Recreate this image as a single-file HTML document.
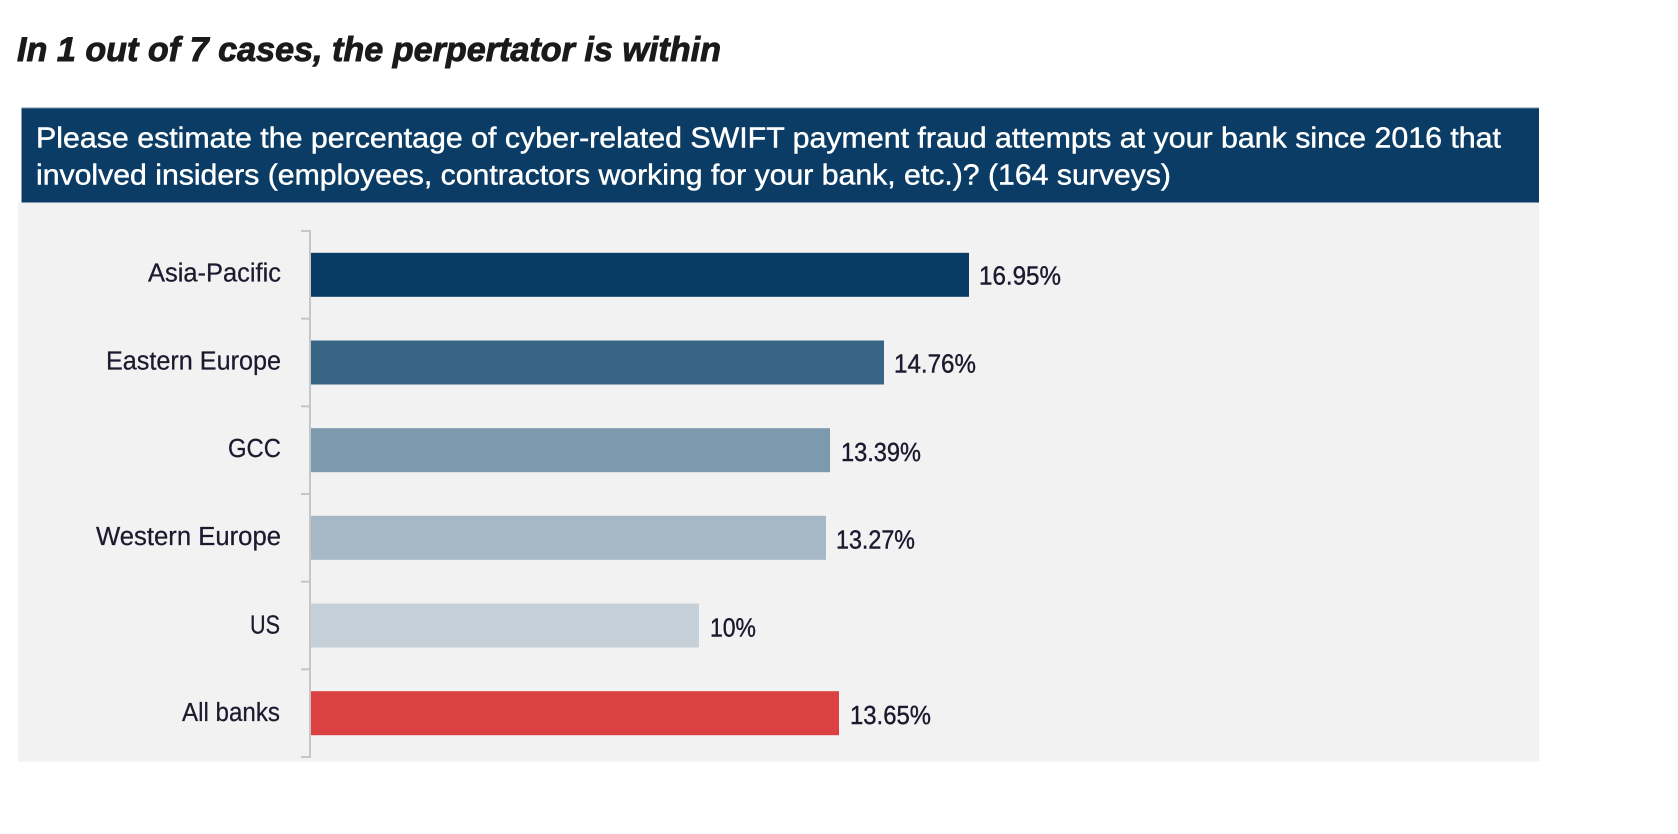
<!DOCTYPE html>
<html>
<head>
<meta charset="utf-8">
<style>
  html, body { margin: 0; padding: 0; background: #ffffff; }
  body { width: 1678px; height: 834px; overflow: hidden; }
  svg { display: block; }
  text { font-family: "Liberation Sans", Arial, sans-serif; }
</style>
</head>
<body>
<svg width="1678" height="834" viewBox="0 0 1678 834" xmlns="http://www.w3.org/2000/svg">
  <rect x="0" y="0" width="1678" height="834" fill="#ffffff"/>

  <!-- Title -->
  <text x="17" y="61" font-size="34" font-weight="bold" font-style="italic" fill="#1a1a1a"
        stroke="#1a1a1a" stroke-width="0.9"
        textLength="704" lengthAdjust="spacingAndGlyphs">In 1 out of 7 cases, the perpertator is within</text>

  <!-- Header panel -->
  <rect x="21.5" y="107.5" width="1517.5" height="95" fill="#0a3c65"/>
  <rect x="21.5" y="107.5" width="1517.5" height="1" fill="#6d8cab"/>
  <text x="36" y="147.5" font-size="28.5" fill="#ffffff" stroke="#ffffff" stroke-width="0.45"
        textLength="1465" lengthAdjust="spacingAndGlyphs">Please estimate the percentage of cyber-related SWIFT payment fraud attempts at your bank since 2016 that</text>
  <text x="36" y="184.5" font-size="28.5" fill="#ffffff" stroke="#ffffff" stroke-width="0.45"
        textLength="1135" lengthAdjust="spacingAndGlyphs">involved insiders (employees, contractors working for your bank, etc.)? (164 surveys)</text>

  <!-- Chart panel -->
  <rect x="18" y="202.5" width="1521" height="559" fill="#f2f2f2"/>

  <!-- Bars -->
  <rect x="311" y="252.8" width="658" height="44" fill="#093c65"/>
  <rect x="311" y="340.5" width="573" height="44" fill="#386586"/>
  <rect x="311" y="428.2" width="519" height="44" fill="#7d99ae"/>
  <rect x="311" y="515.8" width="515" height="44" fill="#a6b7c6"/>
  <rect x="311" y="603.5" width="388" height="44" fill="#c5d0d9"/>
  <rect x="311" y="691.2" width="528" height="44" fill="#db4141"/>

  <!-- Axis -->
  <g stroke="#c6c6c6" stroke-width="2" fill="none">
    <line x1="310" y1="230" x2="310" y2="758"/>
    <line x1="301" y1="231" x2="310" y2="231"/>
    <line x1="301" y1="318.7" x2="310" y2="318.7"/>
    <line x1="301" y1="406.3" x2="310" y2="406.3"/>
    <line x1="301" y1="494" x2="310" y2="494"/>
    <line x1="301" y1="581.7" x2="310" y2="581.7"/>
    <line x1="301" y1="669.3" x2="310" y2="669.3"/>
    <line x1="301" y1="757" x2="310" y2="757"/>
  </g>

  <!-- Category labels -->
  <g font-size="25.5" fill="#1b1a2e" stroke="#1b1a2e" stroke-width="0.25" text-anchor="end">
    <text x="281" y="281.5" textLength="133" lengthAdjust="spacingAndGlyphs">Asia-Pacific</text>
    <text x="281" y="369.5" textLength="175" lengthAdjust="spacingAndGlyphs">Eastern Europe</text>
    <text x="281" y="457" textLength="53" lengthAdjust="spacingAndGlyphs">GCC</text>
    <text x="281" y="545" textLength="185" lengthAdjust="spacingAndGlyphs">Western Europe</text>
    <text x="280" y="633.3" textLength="30" lengthAdjust="spacingAndGlyphs">US</text>
    <text x="280" y="721" textLength="98" lengthAdjust="spacingAndGlyphs">All banks</text>
  </g>

  <!-- Value labels -->
  <g font-size="25.5" fill="#1b1a2e" stroke="#1b1a2e" stroke-width="0.4">
    <text x="979" y="284.5" textLength="82" lengthAdjust="spacingAndGlyphs">16.95%</text>
    <text x="894" y="372.5" textLength="82" lengthAdjust="spacingAndGlyphs">14.76%</text>
    <text x="841" y="461" textLength="80" lengthAdjust="spacingAndGlyphs">13.39%</text>
    <text x="836" y="548.5" textLength="79" lengthAdjust="spacingAndGlyphs">13.27%</text>
    <text x="710" y="636.5" textLength="46" lengthAdjust="spacingAndGlyphs">10%</text>
    <text x="850" y="724" textLength="81" lengthAdjust="spacingAndGlyphs">13.65%</text>
  </g>
</svg>
</body>
</html>
